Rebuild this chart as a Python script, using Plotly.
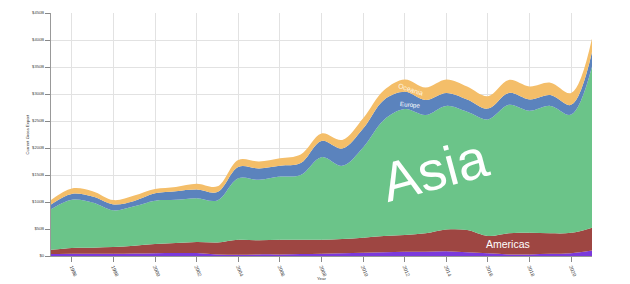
import plotly.graph_objects as go

years = list(range(1995, 2022))
africa   = [3.5, 4, 4, 4, 4.5, 5, 5.5, 5.5, 3, 2.5, 3, 3, 3.5, 4, 5, 6, 7, 8, 8, 9, 7, 5, 3, 3, 4, 5, 10]
americas = [8, 11, 11.5, 12.5, 14.5, 17, 18.5, 20.5, 22, 27.5, 26, 27, 26.5, 26, 26.5, 28, 30, 31, 34, 40, 41, 32, 39, 40, 38, 38, 42.5]
asia     = [75, 89, 83.5, 68, 73, 80.5, 80, 81, 78, 114, 112, 117, 120, 153, 135.5, 167, 215, 233, 219, 229, 219, 216, 238, 226, 236, 219, 298.5]
europe   = [9, 11, 11, 11, 10, 13.5, 16, 16, 15.5, 21, 21, 20, 22, 30, 32, 35, 37, 32, 28, 24, 23, 20, 22, 21, 20, 18, 27]
oceania  = [8, 10, 10, 8, 10, 8, 8, 11, 10.5, 13, 13, 14, 16, 14, 16, 19, 18, 23, 23, 25, 24, 23, 24, 24, 23, 22, 25]

series = [
    ("Africa", africa, "#7b3adb"),
    ("Americas", americas, "#9e4642"),
    ("Asia", asia, "#6bc489"),
    ("Europe", europe, "#5b83bd"),
    ("Oceania", oceania, "#f4be69"),
]

x_ticks = list(range(1996, 2021, 2))
y_ticks = list(range(0, 451, 50))
y_labels = ["$0"] + [f"${v}B" for v in y_ticks[1:]]

FONT = "Liberation Sans, Arial, sans-serif"

fig = go.Figure()
for name, vals, col in series:
    fig.add_trace(go.Scatter(
        x=years, y=vals, name=name, mode="lines", stackgroup="one",
        line=dict(width=0, shape="spline", smoothing=1.0, color=col),
        fillcolor=col, showlegend=False, hoverinfo="skip",
    ))

fig.update_layout(
    width=630, height=284,
    margin=dict(l=51, r=38, t=13, b=28),
    paper_bgcolor="white", plot_bgcolor="white",
    font=dict(family=FONT, color="#333"),
    xaxis=dict(
        range=[1995, 2021], tickvals=x_ticks, ticktext=[str(v) for v in x_ticks],
        tickangle=67, tickfont=dict(size=5, color="#444"),
        showgrid=True, gridcolor="#e2e2e2", gridwidth=1,
        showline=True, linecolor="#999", linewidth=1,
        ticks="outside", ticklen=5, tickcolor="#888",
        zeroline=False, automargin=False,
    ),
    yaxis=dict(
        range=[0, 450], tickvals=y_ticks, ticktext=y_labels,
        tickfont=dict(size=4.2, color="#444"),
        showgrid=True, gridcolor="#e2e2e2", gridwidth=1,
        showline=True, linecolor="#999", linewidth=1,
        ticks="outside", ticklen=5, tickcolor="#888",
        zeroline=False, automargin=False,
    ),
    annotations=[
        dict(text="Asia", x=2013.45, y=160, xref="x", yref="y", showarrow=False,
             textangle=-15, font=dict(size=55, color="white", family=FONT)),
        dict(text="Americas", x=2016.97, y=22, xref="x", yref="y", showarrow=False,
             font=dict(size=10.5, color="white", family=FONT)),
        dict(text="Europe", x=2012.3, y=280, xref="x", yref="y", showarrow=False,
             textangle=5, font=dict(size=6.2, color="white", family=FONT)),
        dict(text="Oceania", x=2012.3, y=309, xref="x", yref="y", showarrow=False,
             textangle=18, font=dict(size=6.9, color="#fff6e0", family=FONT)),
        dict(text="Year", x=0.5, y=0, xref="paper", yref="paper", showarrow=False,
             xanchor="center", yanchor="middle", yshift=-22,
             font=dict(size=4.4, color="#333", family=FONT)),
        dict(text="Current Gross Export", x=0, y=0.5, xref="paper", yref="paper",
             showarrow=False, textangle=-90, xanchor="center", yanchor="middle", xshift=-24,
             font=dict(size=4.2, color="#333", family=FONT)),
    ],
)

fig.write_html("out.html")
